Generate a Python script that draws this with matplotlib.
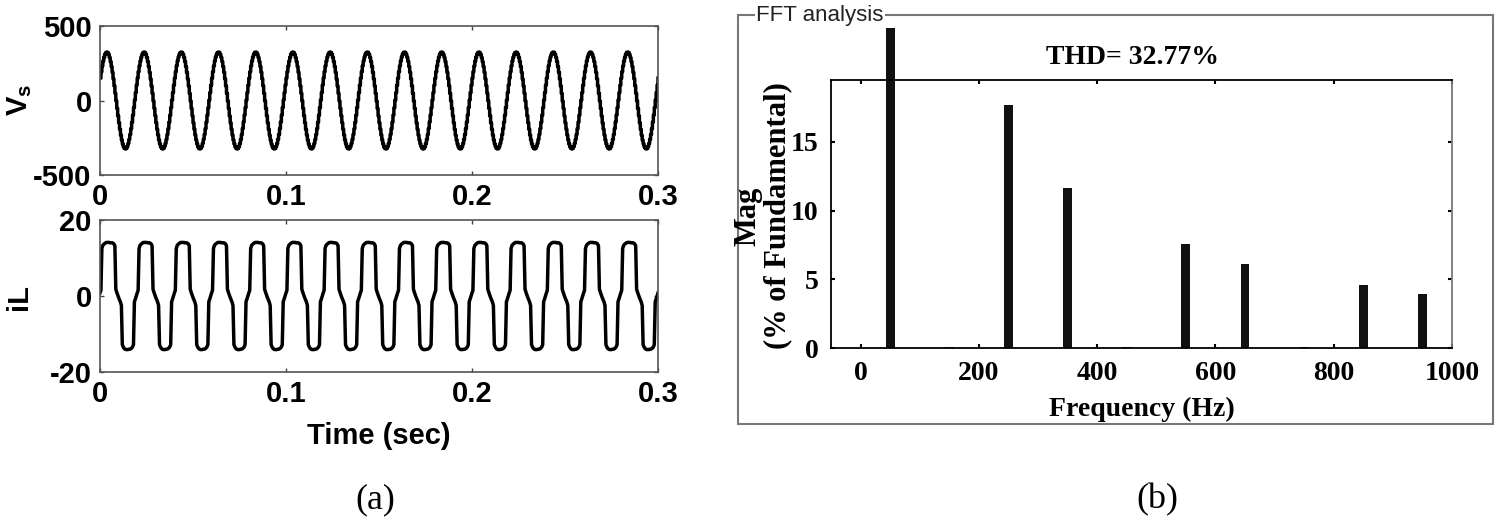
import numpy as np
import matplotlib
matplotlib.use("Agg")
import matplotlib.pyplot as plt
from matplotlib.patches import Rectangle
from matplotlib.transforms import Bbox, TransformedBbox

# one 50 Hz period of the supply voltage, sampled every 0.5 ms (V)
vs_period = [150, 193, 232, 265, 291, 310, 321, 325, 321, 308,
             288, 261, 228, 189, 145, 98, 48, -3, -53, -103,
             -150, -193, -232, -265, -291, -310, -321, -325, -321, -308,
             -288, -261, -228, -189, -145, -98, -48, 3, 53, 103]
vs_step = 0.0005

# one period of the load current, sampled every 0.5 ms (A)
il_period = [0.8, 1.5, 12.5, 13.3, 13.6, 13.8, 14.0, 14.1, 14.1, 14.1,
             14.1, 14.0, 14.0, 14.0, 13.9, 13.7, 13.2, 1.8, 1.0, 0.3,
             -0.4, -1.0, -1.6, -2.5, -12.8, -13.4, -13.8, -14.0, -14.1, -14.1,
             -14.1, -14.0, -14.0, -13.9, -13.7, -13.4, -12.8, -1.5, -0.8, 0.0]
il_step = 0.0005
n_periods = 15

# FFT spectrum of iL (% of fundamental)
harm_freq = [50, 150, 250, 350, 450, 550, 650, 750, 850, 950]
harm_mag = [100, 0.1, 17.7, 11.65, 0.1, 7.6, 6.1, 0.1, 4.6, 3.95]
thd_text = "THD= 32.77%"

time_ticks = [0, 0.1, 0.2, 0.3]
time_labels = ["0", "0.1", "0.2", "0.3"]
freq_ticks = [0, 200, 400, 600, 800, 1000]
mag_ticks = [0, 5, 10, 15]

W, H = 1500, 523
SANS = "Liberation Sans"
SERIF = "Liberation Serif"

plt.rcParams["axes.unicode_minus"] = False


def fx(px):
    return px / W


def fy(py):
    return 1 - py / H


def style_wave_axes(ax, ylim, yticks):
    ax.set_xlim(0, 0.3)
    ax.set_ylim(*ylim)
    ax.set_xticks(time_ticks)
    ax.set_xticklabels(time_labels)
    ax.set_yticks(yticks)
    ax.tick_params(direction="in", length=3, width=1, color="#444444",
                   top=True, right=True, labelsize=21, pad=6)
    for lab in ax.get_xticklabels() + ax.get_yticklabels():
        lab.set_fontweight("bold")
        lab.set_fontfamily(SANS)
    for sp in ax.spines.values():
        sp.set_color("#555555")
        sp.set_linewidth(1.2)


def main():
    fig = plt.figure(figsize=(W / 100, H / 100), dpi=100)

    # ---- (a) waveforms
    vs = np.tile(vs_period, n_periods)
    vs = np.append(vs, vs_period[0])
    t_vs = np.arange(len(vs)) * vs_step

    il = np.tile(il_period, n_periods)
    il = np.append(il, il_period[0])
    t_il = np.arange(len(il)) * il_step

    ax1 = fig.add_axes([fx(100), fy(175), fx(558), (175 - 26) / H])
    ax1.plot(t_vs, vs, color="black", lw=2.5, drawstyle="steps-post")
    style_wave_axes(ax1, (-500, 500), [-500, 0, 500])
    fig.text(fx(20), fy(100), "V$_\\mathregular{s}$", fontsize=21,
             fontweight="bold", family=SANS, rotation=90,
             ha="center", va="center")

    ax2 = fig.add_axes([fx(100), fy(372), fx(558), (372 - 220) / H])
    ax2.plot(t_il, il, color="black", lw=2.5)
    style_wave_axes(ax2, (-20, 20), [-20, 0, 20])
    fig.text(fx(19), fy(297), "iL", fontsize=21, fontweight="bold",
             family=SANS, rotation=90, ha="center", va="center")
    ax2.set_xlabel("Time (sec)", fontsize=21, fontweight="bold",
                   family=SANS, labelpad=10)

    # ---- (b) FFT analysis
    box = Rectangle((fx(738), fy(424)), fx(1493 - 738), (424 - 15) / H,
                    transform=fig.transFigure, fill=False,
                    edgecolor="#777777", lw=1.5)
    fig.patches.append(box)
    fig.text(fx(756), fy(16), "FFT analysis", fontsize=16, family=SANS,
             color="#222222", ha="left", va="center",
             bbox=dict(facecolor="white", edgecolor="none", pad=1))

    ax3 = fig.add_axes([fx(831), fy(348), fx(1452 - 831), (348 - 80) / H])
    bars = ax3.bar(harm_freq, harm_mag, width=15, color="#111111")
    # the fundamental runs over the top of the axes up to the panel title
    clip = TransformedBbox(Bbox([[0, 0], [1, fy(28)]]), fig.transFigure)
    for b in bars:
        b.set_clip_box(clip)
    ax3.set_xlim(-50, 1000)
    ax3.set_ylim(0, 19.5)
    ax3.set_xticks(freq_ticks)
    ax3.set_yticks(mag_ticks)
    ax3.tick_params(direction="in", length=3, width=1.5, top=True,
                    right=True, labelsize=20, pad=9)
    for lab in ax3.get_xticklabels() + ax3.get_yticklabels():
        lab.set_fontweight("bold")
        lab.set_fontfamily(SERIF)
    for sp in ax3.spines.values():
        sp.set_linewidth(1.3)
    ax3.spines["right"].set_color("#777777")
    ax3.set_xlabel("Frequency (Hz)", fontsize=20, fontweight="bold",
                   family=SERIF, labelpad=8)
    # two-line y label, placed line by line
    fig.text(fx(748), fy(216), "Mag", fontsize=22, fontweight="bold",
             family=SERIF, rotation=90, ha="center", va="center")
    fig.text(fx(778), fy(216), "(% of Fundamental)", fontsize=22,
             fontweight="bold", family=SERIF, rotation=90,
             ha="center", va="center")
    fig.text(fx(1132), fy(57), thd_text, fontsize=20, fontweight="bold",
             family=SERIF, ha="center", va="center")

    # ---- captions
    fig.text(fx(375), fy(500), "(a)", fontsize=26, family=SERIF,
             ha="center", va="center")
    fig.text(fx(1157), fy(500), "(b)", fontsize=26, family=SERIF,
             ha="center", va="center")

    fig.savefig("out.png", dpi=100, facecolor="white")


if __name__ == "__main__":
    main()
